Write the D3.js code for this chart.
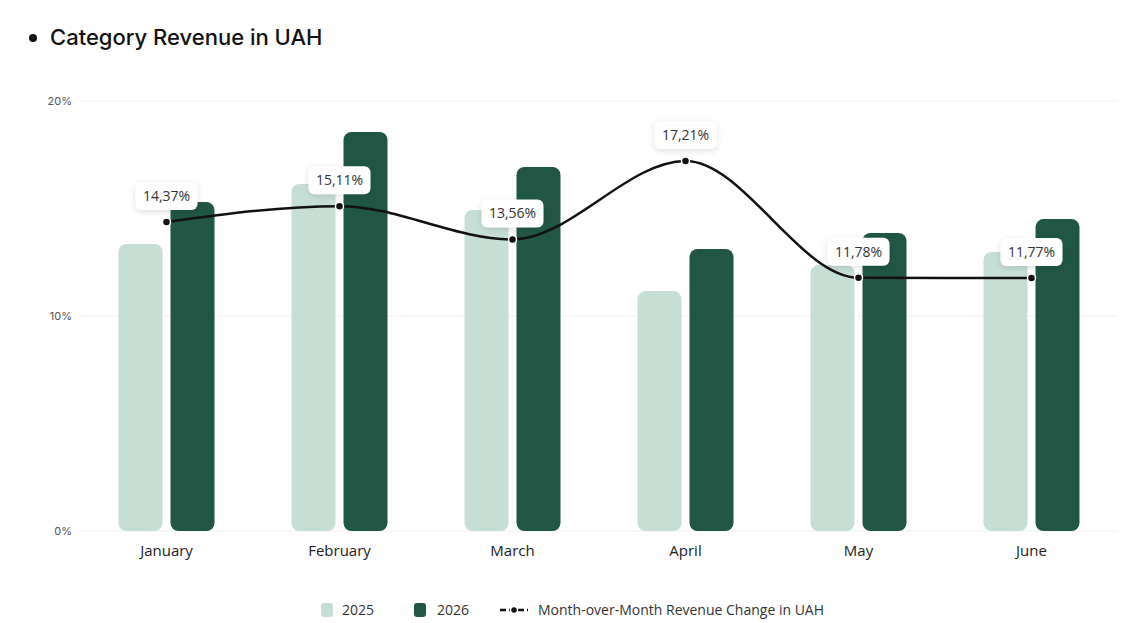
<!DOCTYPE html>
<html>
<head>
<meta charset="utf-8">
<script src="https://cdn.jsdelivr.net/npm/d3@7"></script>
<style>
  body { margin: 0; background: #fff; }
  text { font-family: "Open Sans", "Noto Sans", sans-serif; }
</style>
</head>
<body>
<div id="chart"></div>
<script>
// data
var months = ["January", "February", "March", "April", "May", "June"];
var rev2025 = [13.35, 16.14, 14.93, 11.16, 12.37, 12.98];
var rev2026 = [15.3, 18.56, 16.93, 13.12, 13.86, 14.51];
var momChange = [14.37, 15.11, 13.56, 17.21, 11.78, 11.77];
var yTicks = [0, 10, 20];
var seriesNames = ["2025", "2026", "Month-over-Month Revenue Change in UAH"];

var w = 1148, h = 623;
var plotLeft = 80, plotRight = 1118, plotTop = 101, plotBottom = 531;
var c2025 = "#c5dfd5", c2026 = "#215645";

var svg = d3.select("#chart").append("svg")
  .attr("width", w)
  .attr("height", h);

var defs = svg.append("defs");
var f = defs.append("filter").attr("id", "shadow")
  .attr("x", "-30%").attr("y", "-40%").attr("width", "160%").attr("height", "190%");
f.append("feDropShadow").attr("dx", 0).attr("dy", 2).attr("stdDeviation", 3)
  .attr("flood-color", "#000").attr("flood-opacity", 0.12);

// title
svg.append("circle").attr("cx", 33).attr("cy", 38).attr("r", 4).attr("fill", "#111");
svg.append("text")
  .attr("x", 50).attr("y", 45)
  .attr("font-size", 22).attr("font-weight", 500)
  .style("font-family", "Inter, sans-serif")
  .attr("fill", "#111")
  .text("Category Revenue in UAH");

var x = d3.scaleBand().domain(months).range([plotLeft, plotRight]);
var y = d3.scaleLinear().domain([0, 20]).range([plotBottom, plotTop]);

var barW = 44, gap = 8;

// grid
svg.append("g").selectAll("line")
  .data(yTicks).enter().append("line")
  .attr("x1", plotLeft).attr("x2", plotRight)
  .attr("y1", function(d) { return y(d); })
  .attr("y2", function(d) { return y(d); })
  .attr("stroke", "#edf1ee").attr("stroke-width", 1);

var yAxis = d3.axisLeft(y).tickValues(yTicks).tickSize(0).tickPadding(0)
  .tickFormat(function(d) { return d + "%"; });
var gy = svg.append("g").attr("transform", "translate(" + (plotLeft - 8) + ",0)").call(yAxis);
gy.select(".domain").remove();
gy.selectAll("text").attr("font-size", 11).attr("fill", "#555").style("font-family", "Inter, sans-serif");

var xAxis = d3.axisBottom(x).tickSize(0).tickPadding(0);
var gx = svg.append("g").attr("transform", "translate(0," + (plotBottom + 14) + ")").call(xAxis);
gx.select(".domain").remove();
gx.selectAll("text").attr("font-size", 15).attr("fill", "#222").attr("dy", "0.71em")
  .style("font-family", "'Open Sans', sans-serif");

// bars
function drawBars(vals, color, off) {
  svg.append("g").selectAll("rect")
    .data(vals).enter().append("rect")
    .attr("x", function(d, i) { return x(months[i]) + x.bandwidth() / 2 + off; })
    .attr("y", function(d) { return y(d); })
    .attr("width", barW)
    .attr("height", function(d) { return plotBottom - y(d); })
    .attr("rx", 8).attr("ry", 8)
    .attr("fill", color);
}
drawBars(rev2025, c2025, -gap / 2 - barW);
drawBars(rev2026, c2026, gap / 2);

// line
var cx = function(d, i) { return x(months[i]) + x.bandwidth() / 2; };
var line = d3.line().x(cx).y(function(d) { return y(d); }).curve(d3.curveMonotoneX);
svg.append("path").datum(momChange)
  .attr("d", line)
  .attr("fill", "none").attr("stroke", "#111").attr("stroke-width", 2.5);

svg.append("g").selectAll("circle")
  .data(momChange).enter().append("circle")
  .attr("cx", cx).attr("cy", function(d) { return y(d); })
  .attr("r", 4).attr("fill", "#111").attr("stroke", "#fff").attr("stroke-width", 1.5);

// labels
var lab = svg.append("g").selectAll("g")
  .data(momChange).enter().append("g")
  .attr("transform", function(d, i) { return "translate(" + cx(d, i) + "," + (y(d) - 26) + ")"; });
lab.append("rect")
  .attr("x", -31).attr("y", -14).attr("width", 62).attr("height", 28)
  .attr("rx", 6).attr("fill", "#fff").attr("filter", "url(#shadow)");
lab.append("text")
  .attr("text-anchor", "middle").attr("dy", "0.35em")
  .attr("font-size", 14).attr("fill", "#333")
  .text(function(d) { return d.toFixed(2).replace(".", ",") + "%"; });

// legend
var lg = svg.append("g").attr("transform", "translate(0,610)");
lg.append("rect").attr("x", 321).attr("y", -7).attr("width", 12).attr("height", 14).attr("rx", 3).attr("fill", c2025);
lg.append("text").attr("x", 342).attr("dy", "0.35em").attr("font-size", 14).attr("fill", "#333").text(seriesNames[0]);
lg.append("rect").attr("x", 414).attr("y", -7).attr("width", 12).attr("height", 14).attr("rx", 3).attr("fill", c2026);
lg.append("text").attr("x", 437).attr("dy", "0.35em").attr("font-size", 14).attr("fill", "#333").text(seriesNames[1]);
lg.append("line").attr("x1", 500).attr("x2", 528).attr("y1", 0).attr("y2", 0)
  .attr("stroke", "#111").attr("stroke-width", 2.5).attr("stroke-dasharray", "6,3");
lg.append("circle").attr("cx", 514).attr("cy", 0).attr("r", 3.5).attr("fill", "#111").attr("stroke", "#fff").attr("stroke-width", 1.5);
lg.append("text").attr("x", 538).attr("dy", "0.35em").attr("font-size", 14).attr("fill", "#333").text(seriesNames[2]);
</script>
</body>
</html>
